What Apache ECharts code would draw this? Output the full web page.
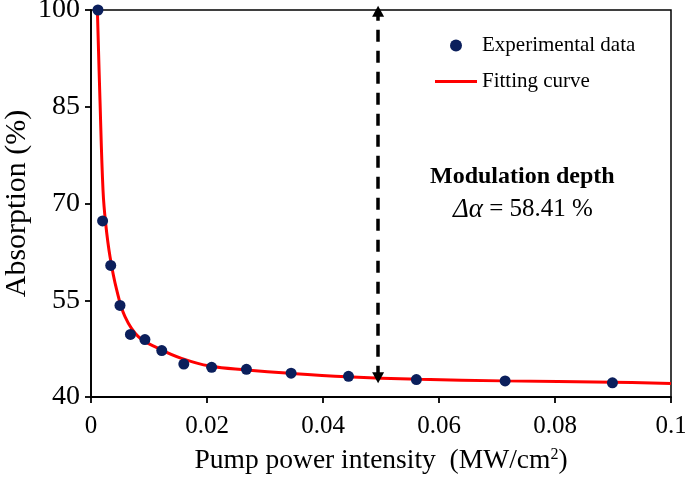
<!DOCTYPE html>
<html>
<head>
<meta charset="utf-8">
<script src="https://cdn.jsdelivr.net/npm/echarts@6/dist/echarts.min.js"></script>
<style>html,body{margin:0;padding:0;background:#fff}#c{width:685px;height:479px}</style>
</head>
<body>
<div id="c"></div>
<script>
// Experimental data: pump intensity (MW/cm2) and absorption (%)
const expX = [0.0012, 0.0020, 0.0034, 0.0050, 0.0068, 0.0093, 0.0122, 0.0160, 0.0208, 0.0268, 0.0345, 0.0444, 0.0561, 0.0714, 0.0899];
const expY = [100.0, 67.3, 60.4, 54.2, 49.7, 48.9, 47.2, 45.1, 44.6, 44.3, 43.7, 43.2, 42.7, 42.5, 42.2];
// Fitting curve
const fitX = [0.0011, 0.00155, 0.00207, 0.00253, 0.00328, 0.00443, 0.00586, 0.00816, 0.0116, 0.0156, 0.0205, 0.0268, 0.0343, 0.0441, 0.0567, 0.0710, 0.0900, 0.1000];
const fitY = [100.0, 86.0, 72.1, 66.9, 61.75, 56.6, 52.45, 49.35, 47.55, 46.0, 44.8, 44.2, 43.67, 43.15, 42.75, 42.5, 42.3, 42.1];
// Modulation depth arrow
const arrowX = 0.0495;
const arrowY = [99.8, 43.0];
const yTicks = [40, 55, 70, 85, 100];
const xTicks = [0, 0.02, 0.04, 0.06, 0.08, 0.1];

const FONT = '"Liberation Serif", "Times New Roman", serif';
const chart = echarts.init(document.getElementById('c'));
const pair = (xs, ys) => xs.map((x, i) => [x, ys[i]]);

chart.setOption({
  animation: false,
  backgroundColor: '#fff',
  textStyle: { fontFamily: FONT, color: '#000' },
  grid: { left: 91, right: 14, top: 10, bottom: 82, containLabel: false, outerBoundsMode: 'none',
    show: true, borderColor: '#000', borderWidth: 1.5, backgroundColor: 'transparent' },
  legend: {
    orient: 'vertical', left: 435, top: 35, padding: 0, itemWidth: 42, itemHeight: 12, itemGap: 15,
    symbolKeepAspect: true,
    textStyle: { fontFamily: FONT, fontSize: 21, color: '#000' },
    data: [
      { name: 'Experimental data', icon: 'circle' },
      { name: 'Fitting curve', icon: 'path://M0,0 L42,0 L42,3 L0,3 Z' }
    ]
  },
  xAxis: {
    type: 'value', min: 0, max: 0.1, interval: 0.02,
    name: 'Pump power intensity  (MW/cm{sup|2})', nameLocation: 'middle', nameGap: 50, nameMoveOverlap: false,
    nameTextStyle: { fontFamily: FONT, fontSize: 27.5, color: '#000', rich: { sup: { fontFamily: FONT, fontSize: 16, verticalAlign: 'top', padding: [0, 0, 9, 0], color: '#000' } } },
    axisLine: { lineStyle: { color: '#000', width: 1.8 } },
    axisTick: { show: true, inside: false, length: 6, lineStyle: { color: '#000', width: 1.8 } },
    axisLabel: { fontFamily: FONT, fontSize: 25, color: '#000', margin: 17, formatter: v => String(+v.toFixed(2)) },
    splitLine: { show: false }
  },
  yAxis: {
    type: 'value', min: 40, max: 100, interval: 15,
    name: 'Absorption (%)', nameLocation: 'middle', nameGap: 59, nameMoveOverlap: false,
    nameTextStyle: { fontFamily: FONT, fontSize: 30, color: '#000' },
    axisLine: { lineStyle: { color: '#000', width: 1.8 } },
    axisTick: { show: true, inside: false, length: 6, lineStyle: { color: '#000', width: 1.8 } },
    axisLabel: { fontFamily: FONT, fontSize: 28, color: '#000', margin: 11 },
    splitLine: { show: false }
  },
  series: [
    {
      name: 'Fitting curve', type: 'line', data: pair(fitX, fitY), smooth: 0.4,
      showSymbol: false, symbol: 'none', lineStyle: { color: '#ff0000', width: 3 }, itemStyle: { color: '#ff0000' }, z: 2,
      markLine: {
        silent: true, symbol: ['triangle', 'triangle'], symbolSize: [12, 11], symbolOffset: 0,
        label: { show: false },
        lineStyle: { color: '#000', width: 3.5, type: [12, 9] },
        itemStyle: { color: '#000' },
        data: [[{ coord: [arrowX, arrowY[1]] }, { coord: [arrowX, arrowY[0]] }]]
      }
    },
    {
      name: 'Experimental data', type: 'scatter', data: pair(expX, expY), symbol: 'circle', symbolSize: 11,
      itemStyle: { color: '#0b1f5c', opacity: 1 }, z: 3
    }
  ],
  graphic: [
    { type: 'text', left: 430, top: 165, style: { text: 'Modulation depth', fontFamily: FONT, fontSize: 24, fontWeight: 'bold', fill: '#000' } },
    { type: 'text', left: 453, top: 196, style: {
      text: '{it|Δα} = 58.41 %', fontFamily: FONT, fontSize: 25, fill: '#000',
      rich: { it: { fontFamily: FONT, fontSize: 27, fontStyle: 'italic', fill: '#000' } }
    } }
  ]
});
</script>
</body>
</html>
